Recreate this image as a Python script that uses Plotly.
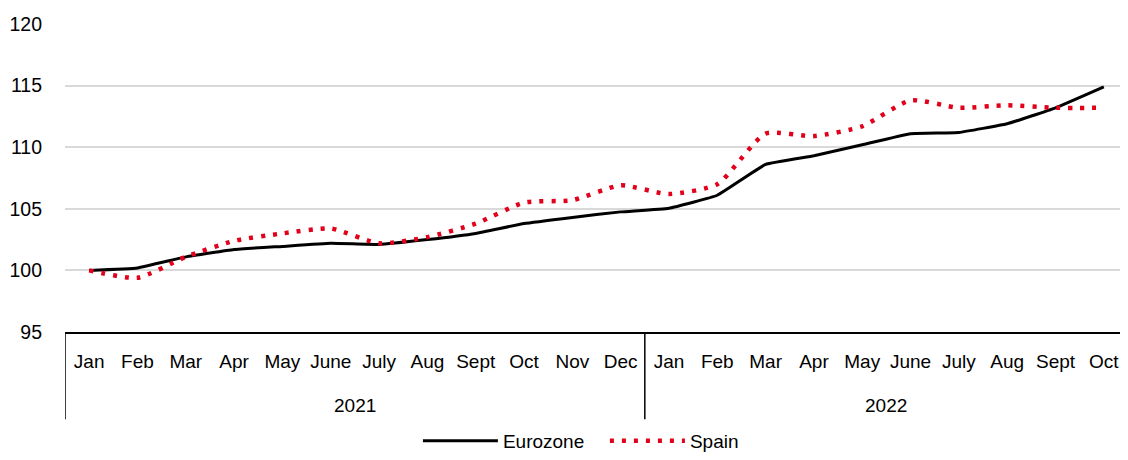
import plotly.graph_objects as go

# Data
years = ["2021"] * 12 + ["2022"] * 10
months = ["Jan", "Feb", "Mar", "Apr", "May", "June", "July", "Aug", "Sept", "Oct", "Nov", "Dec",
          "Jan", "Feb", "Mar", "Apr", "May", "June", "July", "Aug", "Sept", "Oct"]
eurozone = [100.0, 100.2, 101.1, 101.7, 101.95, 102.2, 102.1, 102.5, 103.0, 103.8, 104.3, 104.75,
            105.05, 106.1, 108.6, 109.3, 110.2, 111.1, 111.2, 111.9, 113.2, 114.9]
spain = [100.0, 99.4, 101.1, 102.4, 103.0, 103.4, 102.2, 102.7, 103.8, 105.5, 105.7, 106.9,
         106.2, 107.0, 111.1, 110.9, 111.7, 113.8, 113.2, 113.4, 113.2, 113.2]
y_ticks = [95, 100, 105, 110, 115, 120]

# unique category keys, months shown as tick text
keys = [f"{m} {y}" for m, y in zip(months, years)]

fig = go.Figure()
fig.add_trace(go.Scatter(x=keys, y=eurozone, name="Eurozone", mode="lines",
                         line=dict(color="black", width=3, shape="spline", smoothing=0.3)))
fig.add_trace(go.Scatter(x=keys, y=spain, name="Spain", mode="lines",
                         line=dict(color="#e2001a", width=4.5, dash="4px,8px",
                                   shape="spline", smoothing=0.6)))

# year group labels and dividers
year_names = sorted(set(years))
start = 0
for yr in year_names:
    n = years.count(yr)
    fig.add_annotation(x=start + (n - 1) / 2, y=-0.24, xref="x", yref="paper",
                       text=yr, showarrow=False, font=dict(size=19), yanchor="middle")
    fig.add_shape(type="line", x0=start - 0.5, x1=start - 0.5, y0=0, y1=-0.283,
                  xref="x", yref="paper", line=dict(color="black", width=1.5))
    start += n

# page body has an 8px margin, so the figure is 8px smaller than the window
fig.update_layout(
    width=1120, height=452,
    margin=dict(l=57, r=0, t=16, b=127),
    plot_bgcolor="white", paper_bgcolor="white",
    font=dict(family="Liberation Sans, Arial", size=19, color="black"),
    showlegend=True,
    legend=dict(orientation="h", x=0.332, xanchor="left", y=-0.352, yanchor="middle",
                font=dict(size=19), itemwidth=75, entrywidth=97),
    xaxis=dict(type="category", range=[-0.5, len(keys) - 0.5], tickvals=keys, ticktext=months,
               showline=True, linecolor="black", linewidth=1.5, showgrid=False, ticks="",
               tickfont=dict(size=19), tickangle=0, ticklabelstandoff=11, automargin=False),
    yaxis=dict(range=[95, 120], tickvals=y_ticks, showgrid=True, gridcolor="#d9d9d9",
               gridwidth=1.5, zeroline=False, showline=False, ticks="",
               tickfont=dict(size=19.5), ticklabelstandoff=22, automargin=False),
)

fig.write_html("out.html")
